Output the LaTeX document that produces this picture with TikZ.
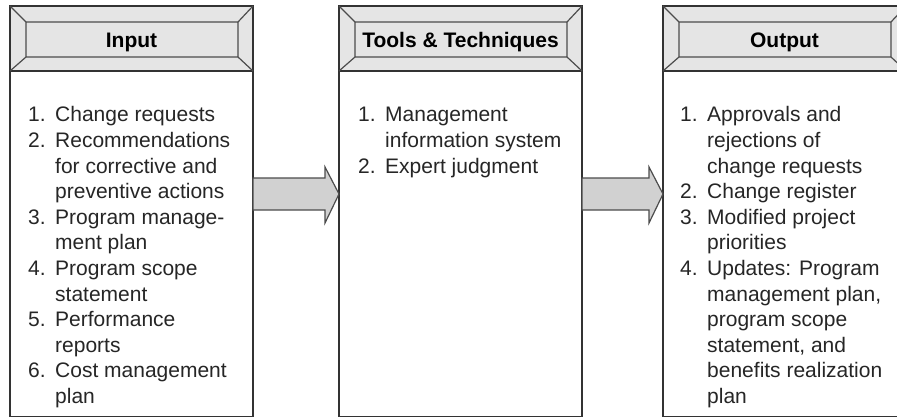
\documentclass[tikz,border=0pt]{standalone}
\usepackage{fontspec}
\setmainfont{Liberation Sans}
\usetikzlibrary{calc}

\tikzset{
  head/.style={draw=black!80, line width=1.7pt, fill=black!10, outer sep=0pt,
    minimum width=243pt, minimum height=65pt, anchor=north west, inner sep=0pt,
    font=\fontsize{21pt}{25pt}\bfseries, text height=18pt, text depth=0pt},
  body/.style={draw=black!80, line width=1.7pt, fill=white, outer sep=0pt,
    minimum width=243pt, minimum height=346pt, anchor=north west},
  bevel/.style={draw=black!70, line width=1.2pt},
  items/.style={anchor=base west, inner sep=0pt, text=black!85,
    font=\fontsize{21pt}{25.6pt}\selectfont},
  blockarrow/.style={draw=black!70, line width=1.2pt, fill=black!18}
}
\newenvironment{itemlist}{\begin{tabular}[t]{@{}p{27pt}@{}l@{}}}{\end{tabular}}
\newcommand\blockarrow[2]{%
  \draw[blockarrow] ($(#1.north east)+(0,107)$) -- ($(#2.north west)+(-14,107)$)
    -- ($(#2.north west)+(-14,96)$) -- ($(#2.north west)+(0,123)$)
    -- ($(#2.north west)+(-14,152)$) -- ($(#2.north west)+(-14,139)$)
    -- ($(#1.north east)+(0,139)$) -- cycle;}

\begin{document}
\begin{tikzpicture}[x=1pt,y=-1pt]
\useasboundingbox (0,0) rectangle (897,417);
\clip (0,0) rectangle (897,417);

% the three columns
\foreach \x/\n/\t in {10/input/Input, 339/tools/{Tools \& Techniques}, 663/output/Output}{
  \node[body] (\n) at (\x,71) {};
  \node[head] (\n-head) at (\x,6) {\t};
  \draw[bevel]
      ($(\n-head.north west)+( 16, 16)$) coordinate (\n-nw)
   -- ($(\n-head.north east)+(-15, 16)$) coordinate (\n-ne)
   -- ($(\n-head.south east)+(-15,-14)$) coordinate (\n-se)
   -- ($(\n-head.south west)+( 16,-14)$) coordinate (\n-sw) -- cycle
      (\n-head.north west) -- (\n-nw)
      (\n-head.north east) -- (\n-ne)
      (\n-head.south east) -- (\n-se)
      (\n-head.south west) -- (\n-sw);
}

% lists
\node[items] (input-list) at ($(input.north west)+(18,51)$) {%
  \begin{itemlist}
  1. & Change requests\\
  2. & Recommendations\\
     & for corrective and\\
     & preventive actions\\
  3. & Program manage-\\
     & ment plan\\
  4. & Program scope\\
     & statement\\
  5. & Performance\\
     & reports\\
  6. & Cost management\\
     & plan
  \end{itemlist}};
\node[items] (tools-list) at ($(tools.north west)+(19,51)$) {%
  \begin{itemlist}
  1. & Management\\
     & information system\\
  2. & Expert judgment
  \end{itemlist}};
\node[items] (output-list) at ($(output.north west)+(17,51)$) {%
  \begin{itemlist}
  1. & Approvals and\\
     & rejections of\\
     & change requests\\
  2. & Change register\\
  3. & Modified project\\
     & priorities\\
  4. & Updates: Program\\
     & management plan,\\
     & program scope\\
     & statement, and\\
     & benefits realization\\
     & plan
  \end{itemlist}};

% arrows
\blockarrow{input}{tools}
\blockarrow{tools}{output}
\end{tikzpicture}
\end{document}
